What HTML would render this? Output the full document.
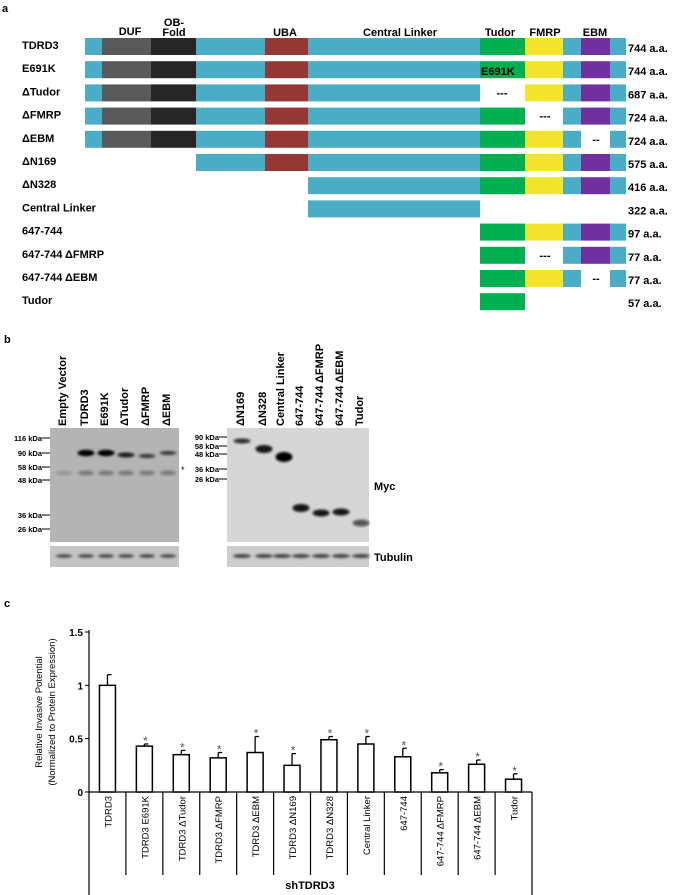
<!DOCTYPE html>
<html><head><meta charset="utf-8"><style>
body{margin:0;background:#fff}
svg{display:block;font-family:"Liberation Sans",Arial,sans-serif}
.t{font-weight:bold;font-size:11px}
</style></head><body>
<svg id="fig" width="675" height="895" viewBox="0 0 675 895">
<defs><filter id="bl" x="-50%" y="-100%" width="200%" height="300%"><feGaussianBlur stdDeviation="1.2"/></filter></defs>
<g id="pa">
<text x="2" y="12" class="t" font-size="12">a</text>
<text x="130" y="35" class="t" text-anchor="middle">DUF</text>
<text x="174" y="26" class="t" text-anchor="middle">OB-</text>
<text x="174" y="36" class="t" text-anchor="middle">Fold</text>
<text x="285" y="36" class="t" text-anchor="middle">UBA</text>
<text x="400" y="36" class="t" text-anchor="middle">Central Linker</text>
<text x="500" y="36" class="t" text-anchor="middle">Tudor</text>
<text x="545" y="36" class="t" text-anchor="middle">FMRP</text>
<text x="595" y="36" class="t" text-anchor="middle">EBM</text>
</g>
<g id="pb">
<text x="4" y="343" class="t" font-size="12">b</text>
<rect x="50" y="428" width="129" height="114" fill="#b4b4b4"/>
<rect x="50" y="546" width="129" height="21" fill="#c4c4c4"/>
<rect x="227" y="428" width="142" height="114" fill="#d6d6d6"/>
<rect x="227" y="546" width="142" height="21" fill="#cdcdcd"/>
<text x="374" y="490" class="t" font-size="12">Myc</text>
<text x="374" y="561" class="t" font-size="12">Tubulin</text>
<text x="181" y="473" font-size="9">*</text>
</g>
<g id="pc">
<text x="4" y="607" class="t" font-size="12">c</text>
<text transform="translate(42,712) rotate(-90)" font-size="9.5" text-anchor="middle">Relative Invasive Potential</text>
<text transform="translate(55,712) rotate(-90)" font-size="9.5" text-anchor="middle">(Normalized to Protein Expression)</text>
<text x="310" y="889" class="t" font-size="10" text-anchor="middle">shTDRD3</text>
</g>
</svg>
<script>
const NS='http://www.w3.org/2000/svg';
function mk(tag,at,parent,txt){const e=document.createElementNS(NS,tag);for(const k in at)e.setAttribute(k,at[k]);if(txt!==undefined)e.textContent=txt;parent.appendChild(e);return e;}
// ---------- Panel a ----------
const constructs=['TDRD3','E691K','ΔTudor','ΔFMRP','ΔEBM','ΔN169','ΔN328','Central Linker','647-744','647-744 ΔFMRP','647-744 ΔEBM','Tudor'];
const lengths=['744 a.a.','744 a.a.','687 a.a.','724 a.a.','724 a.a.','575 a.a.','416 a.a.','322 a.a.','97 a.a.','77 a.a.','77 a.a.','57 a.a.'];
const C={b:'#4bacc6',d:'#595959',k:'#262626',u:'#953735',g:'#00b050',y:'#f2e42c',p:'#7030a0'};
const X=[85,102,151,196,265,308,480,525,563,581,610,626];
const full=[[0,1,'b'],[1,2,'d'],[2,3,'k'],[3,4,'b'],[4,5,'u'],[5,6,'b'],[6,7,'g'],[7,8,'y'],[8,9,'b'],[9,10,'p'],[10,11,'b']];
const rows=[full,full,
 full.filter(s=>s[2]!=='g'),
 full.filter(s=>s[2]!=='y'),
 full.filter(s=>s[2]!=='p'),
 full.slice(3),full.slice(5),[[5,6,'b']],full.slice(6),
 full.slice(6).filter(s=>s[2]!=='y'),full.slice(6).filter(s=>s[2]!=='p'),[[6,7,'g']]];
const dashes=[null,null,[502,'---'],[545,'---'],[596,'--'],null,null,null,null,[545,'---'],[596,'--'],null];
const pa=document.getElementById('pa');
constructs.forEach((n,i)=>{
 const y=38+i*23.2;
 const t=mk('text',{x:22,y:y+11,class:'t'},pa,n);
 
 
 rows[i].forEach(s=>{
  const r=mk('rect',{x:X[s[0]],y:y,width:X[s[1]]-X[s[0]],height:17,fill:C[s[2]]},pa);
  
  
 });
 if(dashes[i]){const d=mk('text',{x:dashes[i][0],y:y+12,class:'t','text-anchor':'middle'},pa,dashes[i][1]);
  
  }
 const l=mk('text',{x:628,y:y+14,class:'t'},pa,lengths[i]);
 
 
});
const e=mk('text',{x:481,y:38+23.2+14,class:'t','font-size':'12'},pa,'E691K');


// ---------- Panel b ----------
const pb=document.getElementById('pb');
const laneL=['Empty Vector','TDRD3','E691K','ΔTudor','ΔFMRP','ΔEBM'];
const laneLx=[62,84,104,124,145,166];
const laneR=['ΔN169','ΔN328','Central Linker','647-744','647-744 ΔFMRP','647-744 ΔEBM','Tudor'];
const laneRx=[240,262,280,299,319,339,359];
const mwL=['116 kDa','90 kDa','58 kDa','48 kDa','36 kDa','26 kDa'],mwLy=[438,453,467,480,515,529];
const mwR=['90 kDa','58 kDa','48 kDa','36 kDa','26 kDa'],mwRy=[437,446,454,469,479];
function lane(names,xs){names.forEach((n,i)=>{const t=mk('text',{transform:`translate(${xs[i]+4},426) rotate(-90)`,class:'t','font-size':'10.5'},pb,n);
 
 });}
lane(laneL,laneLx);lane(laneR,laneRx);
function mw(names,ys,xr){names.forEach((n,i)=>{const t=mk('text',{x:xr-8,y:ys[i]+3,'font-size':'7.5','font-weight':'bold','text-anchor':'end'},pb,n);
 
 
 mk('line',{x1:xr-8,x2:xr,y1:ys[i],y2:ys[i],stroke:'#000'},pb);});}
mw(mwL,mwLy,50);mw(mwR,mwRy,227);
const bandsL=[[84,453,1,3.2],[104,453,1,3.2],[124,455,.85,2.5],[145,456,.7,2],[166,453,.7,2]];
bandsL.forEach(b=>{const r=mk('ellipse',{cx:b[0]+2,cy:b[1],rx:8.5,ry:b[3],fill:'#000',opacity:b[2],filter:'url(#bl)'},pb);
 
 });
laneLx.forEach((x,i)=>{mk('ellipse',{cx:x+2,cy:473,rx:8,ry:2.5,fill:'#555',opacity:i?0.6:0.3,filter:'url(#bl)'},pb);
 mk('ellipse',{cx:x+2,cy:556,rx:8,ry:1.8,fill:'#222',opacity:.8,filter:'url(#bl)'},pb);});
const bandsR=[[240,441,.8,2.5],[262,449,.9,4],[282,457,1,5],[299,508,.9,4],[319,513,.9,3.5],[339,512,.9,3.5],[359,523,.6,3.5]];
bandsR.forEach(b=>{const r=mk('ellipse',{cx:b[0]+2,cy:b[1],rx:8.5,ry:b[3],fill:'#000',opacity:b[2],filter:'url(#bl)'},pb);
 
 });
laneRx.forEach(x=>mk('ellipse',{cx:x+2,cy:556,rx:9,ry:2,fill:'#222',opacity:.8,filter:'url(#bl)'},pb));
// ---------- Panel c ----------
const cats=['TDRD3','TDRD3 E691K','TDRD3 ΔTudor','TDRD3 ΔFMRP','TDRD3 ΔEBM','TDRD3 ΔN169','TDRD3 ΔN328','Central Linker','647-744','647-744 ΔFMRP','647-744 ΔEBM','Tudor'];
const vals=[1.0,0.43,0.35,0.32,0.37,0.25,0.49,0.45,0.33,0.18,0.26,0.12];
const errs=[0.10,0.02,0.04,0.05,0.15,0.11,0.03,0.07,0.08,0.03,0.04,0.05];
const sig=[false,true,true,true,true,true,true,true,true,true,true,true];
const yTicks=[0,0.5,1,1.5];
const yTickLabels=['0','0.5','1','1.5'];
const pc=document.getElementById('pc');
const x0=89,x1=532,yb=792,yt=632,ymax=1.5;
const ys=v=>yb-(v/ymax)*(yb-yt);
const bw=(x1-x0)/cats.length;
const xs=i=>x0+bw*(i+0.5);
mk('line',{x1:x0,x2:x0,y1:yt-2,y2:895,stroke:'#000','stroke-width':1.2},pc);
mk('line',{x1:x1,x2:x1,y1:yb,y2:895,stroke:'#000','stroke-width':1.2},pc);
mk('line',{x1:x0,x2:x1,y1:yb,y2:yb,stroke:'#000','stroke-width':1.2},pc);
yTicks.forEach((v,i)=>{mk('line',{x1:x0-4,x2:x0,y1:ys(v),y2:ys(v),stroke:'#000'},pc);
 const t=mk('text',{x:x0-6,y:ys(v)+4,'font-size':'10','font-weight':'bold','text-anchor':'end'},pc,yTickLabels[i]);
 
 });
cats.forEach((c,i)=>{
 if(i>0)mk('line',{x1:x0+bw*i,x2:x0+bw*i,y1:yb,y2:875,stroke:'#000','stroke-width':1.2},pc);
 const cx=xs(i);
 const r=mk('rect',{x:cx-8,y:ys(vals[i]),width:16,height:yb-ys(vals[i]),fill:'#fff',stroke:'#000','stroke-width':1.5},pc);
 
 
 const ey=ys(vals[i]+errs[i]);
 mk('line',{x1:cx,x2:cx,y1:ys(vals[i]),y2:ey,stroke:'#000','stroke-width':1.3},pc);
 mk('line',{x1:cx,x2:cx+4,y1:ey,y2:ey,stroke:'#000','stroke-width':1.3},pc);
 if(sig[i]){const s=mk('text',{x:cx+1,y:ey+1,'font-size':'12','fill':'#555','text-anchor':'middle'},pc,'*');
  
  }
 const t=mk('text',{transform:`translate(${cx+4},796) rotate(-90)`,'font-size':'9.5','text-anchor':'end'},pc,c);
 
 
});
</script>
</body></html>
